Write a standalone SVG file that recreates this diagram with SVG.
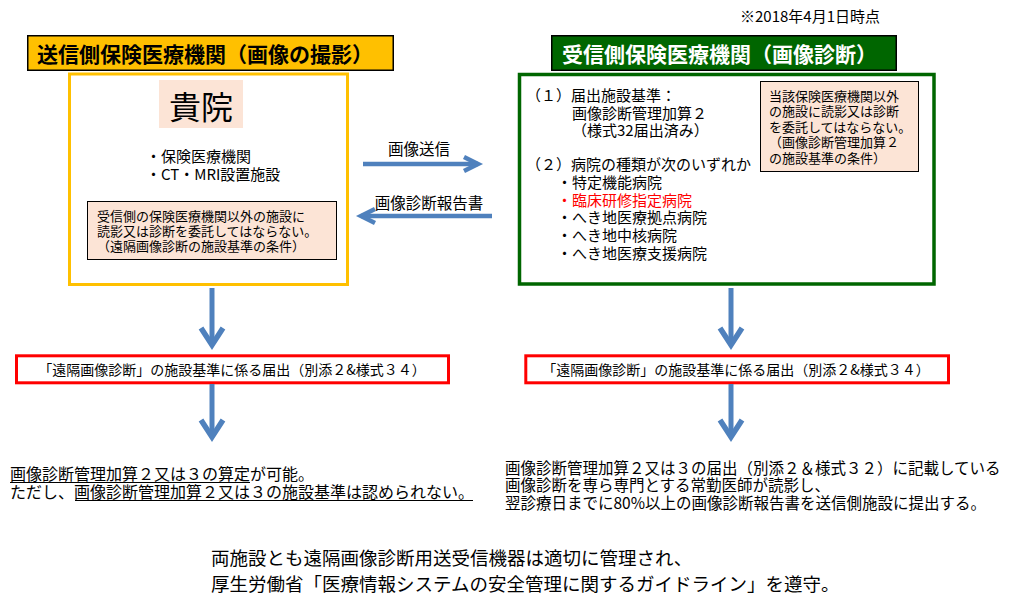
<svg xmlns="http://www.w3.org/2000/svg" width="1031" height="604" viewBox="0 0 1031 604">
<style>
  text { font-family: "Noto Sans CJK JP", "Noto Sans", sans-serif; fill: #000; }
  .hdr { font-size: 21px; font-weight: bold; }
  .note { fill: #FCE4D6; stroke: #000; stroke-width: 1; }
  .redbox { fill: #fff; stroke: #FF0000; stroke-width: 3; }
  .arr { fill: none; stroke: #4F81BD; }
  .t13 { font-size: 13px; }
  .t14 { font-size: 14px; }
  .t15 { font-size: 15px; }
  .t155 { font-size: 15.5px; }
  .t16 { font-size: 16px; }
  .ul { stroke: #000; stroke-width: 1; }
</style>
<defs>
  <marker id="headH" markerUnits="userSpaceOnUse" orient="auto" refX="0" refY="0" markerWidth="40" markerHeight="40" overflow="visible">
    <path d="M-14,-7 L0,0 L-14,7" fill="none" stroke="#4F81BD" stroke-width="4.5"/>
  </marker>
  <marker id="headV" markerUnits="userSpaceOnUse" orient="auto" refX="0" refY="0" markerWidth="40" markerHeight="40" overflow="visible">
    <path d="M-17,-11 L0,0 L-17,11" fill="none" stroke="#4F81BD" stroke-width="5.5"/>
  </marker>
</defs>
<rect width="1031" height="604" fill="#fff"/>

<text id="date" x="740" y="21.5" style="font-size:15px">※2018年4月1日時点</text>

<g id="sender">
  <rect x="27.75" y="35.75" width="365.5" height="34.5" fill="#FFC000" stroke="#000" stroke-width="1.5"/>
  <text class="hdr" x="37" y="62">送信側保険医療機関（画像の撮影）</text>
  <rect x="69.5" y="74" width="278" height="210.5" fill="#fff" stroke="#FFC000" stroke-width="3"/>
  <rect x="159" y="80" width="84" height="48" fill="#FCE4D6"/>
  <text x="201" y="119" text-anchor="middle" style="font-size:32px">貴院</text>
  <text class="t15"><tspan x="146" y="161.5">・保険医療機関</tspan><tspan x="146" y="180">・CT・MRI設置施設</tspan></text>
  <rect class="note" x="87.5" y="201.5" width="249" height="58"/>
  <text class="t13"><tspan x="97" y="221">受信側の保険医療機関以外の施設に</tspan><tspan x="97" y="236">読影又は診断を委託してはならない。</tspan><tspan x="97" y="251">（遠隔画像診断の施設基準の条件）</tspan></text>
</g>

<g id="receiver">
  <rect x="551.75" y="35.75" width="344.5" height="34.5" fill="#006600" stroke="#000" stroke-width="1.5"/>
  <text class="hdr" x="562" y="62" style="fill:#fff">受信側保険医療機関（画像診断）</text>
  <rect x="519.5" y="74.5" width="414.5" height="209.5" fill="#fff" stroke="#006600" stroke-width="3.5"/>
  <text class="t15"><tspan x="526" y="100.5">（１）届出施設基準：</tspan><tspan x="572" y="118.5">画像診断管理加算２</tspan><tspan x="572" y="135.5">（様式32届出済み）</tspan><tspan x="526" y="170">（２）病院の種類が次のいずれか</tspan><tspan x="557" y="188">・特定機能病院</tspan><tspan x="557" y="205.7" style="fill:#FF0000">・臨床研修指定病院</tspan><tspan x="557" y="223.4">・へき地医療拠点病院</tspan><tspan x="557" y="241.2">・へき地中核病院</tspan><tspan x="557" y="259">・へき地医療支援病院</tspan></text>
  <rect class="note" x="760.5" y="81.5" width="158" height="90"/>
  <text class="t13"><tspan x="769" y="100.5">当該保険医療機関以外</tspan><tspan x="769" y="116">の施設に読影又は診断</tspan><tspan x="769" y="131.5">を委託してはならない。</tspan><tspan x="769" y="147">（画像診断管理加算２</tspan><tspan x="769" y="162.5">の施設基準の条件）</tspan></text>
</g>

<g id="notify-left">
  <rect class="redbox" x="16.5" y="355.8" width="432" height="27"/>
  <text class="t14" x="232" y="375.3" text-anchor="middle">「遠隔画像診断」の施設基準に係る届出（別添２&amp;様式３４）</text>
</g>
<g id="notify-right">
  <rect class="redbox" x="525.8" y="355.8" width="422.7" height="27"/>
  <text class="t14" x="736" y="375.3" text-anchor="middle">「遠隔画像診断」の施設基準に係る届出（別添２&amp;様式３４）</text>
</g>

<g id="result-left">
  <text class="t16"><tspan x="10" y="479.5">画像診断管理加算２又は３の算定が可能。</tspan><tspan x="10" y="497.5">ただし、画像診断管理加算２又は３の施設基準は認められない。</tspan></text>
  <line class="ul" x1="10" y1="482.5" x2="250" y2="482.5"/>
  <line class="ul" x1="75" y1="500.5" x2="473" y2="500.5"/>
</g>

<g id="result-right">
  <text class="t155"><tspan x="505" y="473.6">画像診断管理加算２又は３の届出（別添２＆様式３２）に記載している</tspan><tspan x="505" y="491">画像診断を専ら専門とする常勤医師が読影し、</tspan><tspan x="505" y="509">翌診療日までに80%以上の画像診断報告書を送信側施設に提出する。</tspan></text>
</g>

<g id="footer">
  <text style="font-size:18.5px"><tspan x="211" y="565">両施設とも遠隔画像診断用送受信機器は適切に管理され、</tspan><tspan x="211" y="590.5">厚生労働省「医療情報システムの安全管理に関するガイドライン」を遵守。</tspan></text>
</g>

<g id="connectors">
  <path class="arr" stroke-width="4.5" d="M363,164 L478,164" marker-end="url(#headH)"/>
  <text class="t155" x="419" y="155" text-anchor="middle">画像送信</text>
  <path class="arr" stroke-width="4.5" d="M492,216 L361,216" marker-end="url(#headH)"/>
  <text class="t155" x="429" y="208.5" text-anchor="middle">画像診断報告書</text>
  <path class="arr" stroke-width="5" d="M212,288 L212,345" marker-end="url(#headV)"/>
  <path class="arr" stroke-width="5" d="M212,384 L212,437" marker-end="url(#headV)"/>
  <path class="arr" stroke-width="5" d="M731,288 L731,345" marker-end="url(#headV)"/>
  <path class="arr" stroke-width="5" d="M731,384 L731,437" marker-end="url(#headV)"/>
</g>
</svg>
